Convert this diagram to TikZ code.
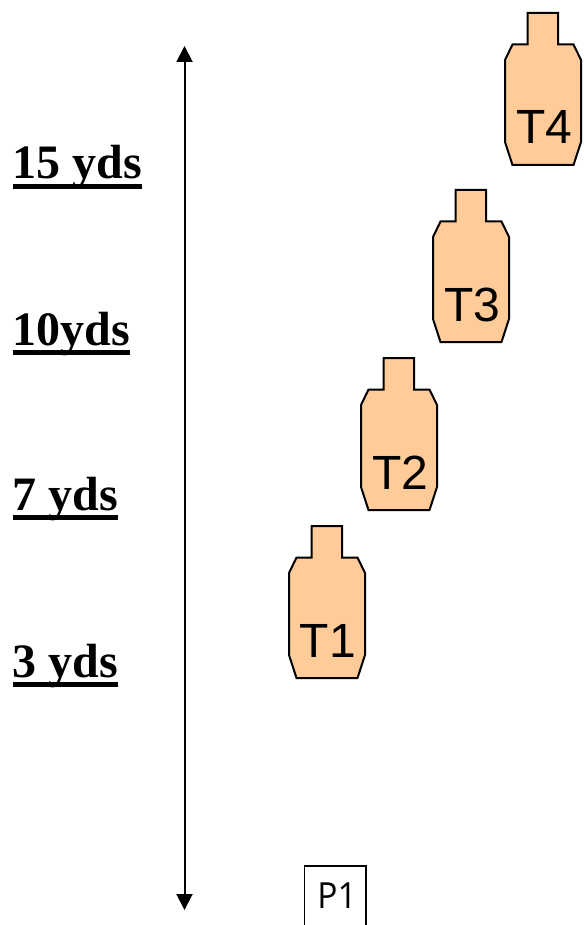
\documentclass[tikz,border=0pt]{standalone}
\usepackage{fontspec}
\setmainfont{Liberation Serif}
\newfontfamily\tgtfont{Liberation Sans}
\newfontfamily\plfont{Open Sans}
\usetikzlibrary{arrows.meta}
\newcommand\ulabel[1]{\setbox0\hbox{\bfseries\fontsize{48}{48}\selectfont #1}\rlap{\copy0}\rule[-10pt]{\wd0}{5pt}}
\definecolor{targetfill}{HTML}{FFCC99}
\tikzset{
  x=1pt,y=-1pt,
  yard/.style={anchor=base west,inner sep=0pt,text=black},
  tgtlabel/.style={anchor=base,inner sep=0pt,font=\tgtfont\fontsize{48}{48}\selectfont},
  outline/.style={draw=black,line width=2pt,fill=targetfill,line join=miter},
  target/.pic={
    \draw[outline] (22.5,0) -- (53,0) -- (53,31.5) -- (68.5,31.5) -- (76,47) -- (76,129) -- (68.5,152) -- (7.5,152) -- (0,129) -- (0,47) -- (7.5,31.5) -- (22.5,31.5) -- cycle;
  }
}
\begin{document}
\begin{tikzpicture}
\useasboundingbox (0,0) rectangle (583,925);
\node[yard] (y15) at (12.5,179) {\ulabel{15 yds}};
\node[yard] (y10) at (12.5,345) {\ulabel{10yds}};
\node[yard] (y7) at (12.5,510) {\ulabel{7 yds}};
\node[yard] (y3) at (12.5,677) {\ulabel{3 yds}};
\coordinate (top) at (184.5,46);
\coordinate (bot) at (184.5,910);
\draw[line width=2pt,{Triangle[width=16pt,length=16pt]}-{Triangle[width=16pt,length=16pt]}] (top) -- (bot);
\pic at (505,13) {target};
\pic at (433,190) {target};
\pic at (361,358) {target};
\pic at (289,526) {target};
\node[tgtlabel] (t4) at (544,144) {T4};
\node[tgtlabel] (t3) at (472.5,321) {T3};
\node[tgtlabel] (t2) at (400.5,489) {T2};
\node[tgtlabel] (t1) at (328,657) {T1};
\coordinate (pa) at (304.5,925);
\coordinate (pb) at (304.5,866);
\coordinate (pc) at (366,866);
\coordinate (pd) at (366,925);
\draw[line width=1.5pt] (pa) -- (pb) -- (pc) -- (pd);
\node[anchor=base,inner sep=0pt,font=\plfont\fontsize{36}{36}\selectfont,xscale=0.93] (p1) at (337,908) {P1};
\end{tikzpicture}
\end{document}
